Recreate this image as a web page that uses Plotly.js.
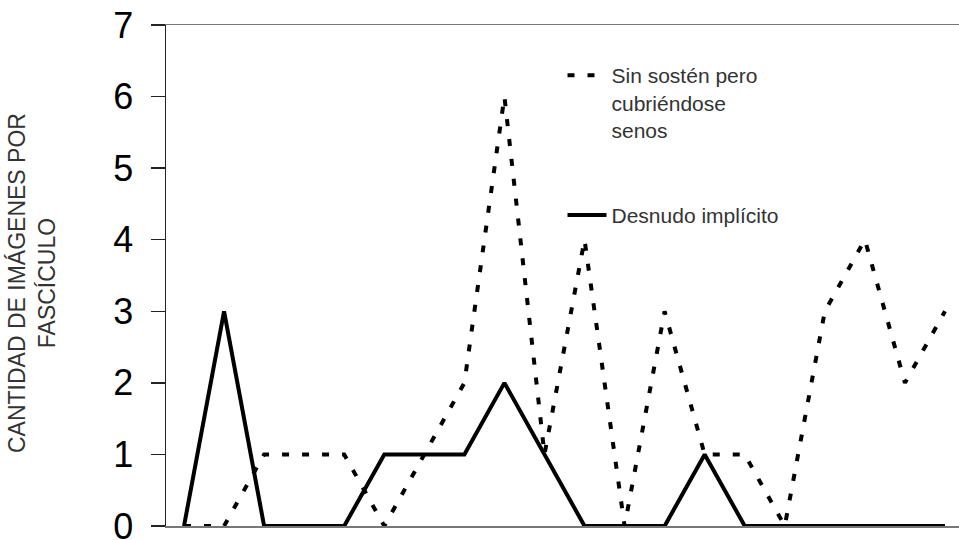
<!DOCTYPE html>
<html>
<head>
<meta charset="utf-8">
<script src="https://cdn.plot.ly/plotly-3.0.1.min.js"></script>
<style>html,body{margin:0;padding:0;background:#fff;}#chart{width:959px;height:540px;}</style>
</head>
<body>
<div id="chart"></div>
<script>
// Fascículos (x positions, unlabeled in the original)
const fasciculos = [1,2,3,4,5,6,7,8,9,10,11,12,13,14,15,16,17,18,19,20];
// Series values
const sinSosten = [0,0,1,1,1,0,1,2,6,1,4,0,3,1,1,0,3,4,2,3];
const desnudoImplicito = [0,3,0,0,0,1,1,1,2,1,0,0,0,1,0,0,0,0,0,0];
const seriesNames = ["Sin sostén pero<br>cubriéndose<br>senos", "Desnudo implícito"];
const yTitle = "CANTIDAD DE IMÁGENES POR<br>FASCÍCULO";
const yTicks = [0,1,2,3,4,5,6,7];

const FONT = "Liberation Sans, Arial, Helvetica, sans-serif";

const traces = [
  {
    x: fasciculos, y: sinSosten, name: seriesNames[0], type: "scatter", mode: "lines",
    line: {color: "#000", width: 4, dash: "7px,13px"},
    legend: "legend"
  },
  {
    x: fasciculos, y: desnudoImplicito, name: seriesNames[1], type: "scatter", mode: "lines",
    line: {color: "#000", width: 4},
    legend: "legend2"
  }
];

const layout = {
  width: 959, height: 540,
  margin: {l: 166, r: 0, t: 25, b: 14, pad: 0},
  paper_bgcolor: "#fff", plot_bgcolor: "#fff",
  font: {family: FONT, color: "#333"},
  xaxis: {
    range: [0.55, 20.35], showgrid: false, zeroline: false,
    showline: true, mirror: true, linecolor: "#777", linewidth: 1.5,
    showticklabels: false, ticks: ""
  },
  yaxis: {
    range: [0, 7], tickvals: yTicks, ticktext: yTicks.map(String),
    showgrid: false, zeroline: false,
    showline: true, linecolor: "#222", linewidth: 1.5,
    ticks: "outside", ticklen: 14, tickwidth: 1.5, tickcolor: "#222",
    tickfont: {family: FONT, size: 36, color: "#000"},
    ticklabelstandoff: 10, ticklabeloverflow: "allow"
  },
  showlegend: true,
  legend: {
    x: 0.5, y: 0.94, xanchor: "left", yanchor: "top",
    bgcolor: "rgba(0,0,0,0)", valign: "top", itemwidth: 39,
    font: {family: FONT, size: 21, color: "#333"}
  },
  legend2: {
    x: 0.5, y: 0.661, xanchor: "left", yanchor: "top",
    bgcolor: "rgba(0,0,0,0)", valign: "top", itemwidth: 39,
    font: {family: FONT, size: 21, color: "#333"}
  },
  annotations: [{
    text: yTitle, xref: "paper", yref: "paper",
    x: -0.169, y: 0.485, xanchor: "center", yanchor: "middle",
    textangle: -90, showarrow: false,
    font: {family: FONT, size: 23, color: "#333"}
  }]
};

Plotly.newPlot("chart", traces, layout, {displayModeBar: false, staticPlot: true});
</script>
</body>
</html>
